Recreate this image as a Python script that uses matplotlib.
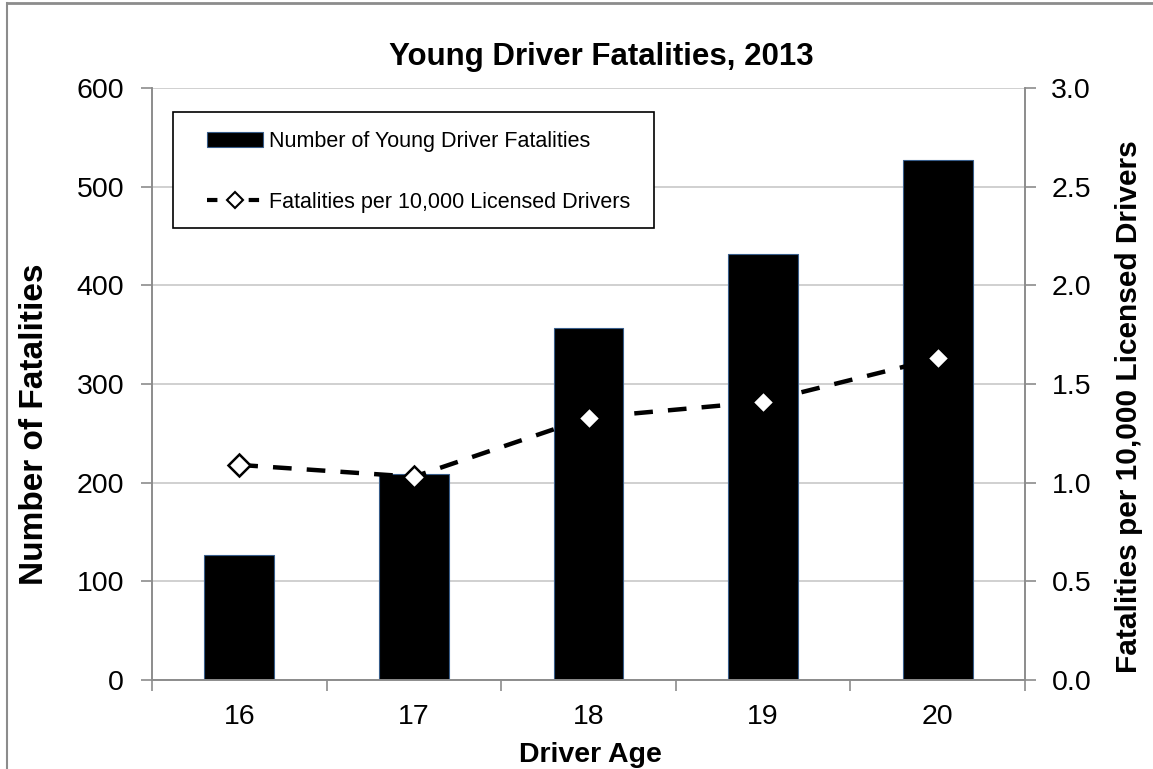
import numpy as np
import matplotlib
matplotlib.use('Agg')
import matplotlib.pyplot as plt
from matplotlib.patches import Patch, Rectangle
from matplotlib.lines import Line2D

plt.rcParams['font.family'] = ['Liberation Sans', 'DejaVu Sans']

# data
ages = ['16', '17', '18', '19', '20']
fatalities = [127, 209, 357, 432, 527]
rate_per_10k = [1.09, 1.03, 1.33, 1.41, 1.63]

W, H = 1153, 769
fig = plt.figure(figsize=(W / 100, H / 100), dpi=100)
ax = fig.add_axes([152 / W, 1 - 680 / H, 873 / W, 592 / H])
ax2 = ax.twinx()

x = np.arange(len(ages))
grey = '#8c8c8c'

# bars on the left axis
ax.bar(x, fatalities, width=0.4, color='black', edgecolor='#385d8a', linewidth=0.8, zorder=2)
ax.set_xlim(-0.5, len(ages) - 0.5)
ax.set_ylim(0, 600)
ax.set_yticks(range(0, 601, 100))
ax.grid(axis='y', color='#c8c8c8', linewidth=1.2)
ax.set_axisbelow(True)
ax.set_xticks(x)
ax.set_xticklabels(ages)
ax.set_xticks(np.arange(-0.5, len(ages), 1.0), minor=True)
ax.tick_params(axis='x', which='major', length=0, pad=17, labelsize=20.5)
ax.tick_params(axis='x', which='minor', length=8, color=grey, width=1.2, direction='out')
ax.tick_params(axis='y', length=8, color=grey, width=1.2, direction='out', pad=12, labelsize=20.5)

# dashed line on the right axis
ax2.plot(x, rate_per_10k, color='black', linewidth=3.2, dashes=(4.2, 3.4),
         marker='D', markersize=11, markerfacecolor='white', markeredgecolor='black',
         markeredgewidth=1.8, zorder=3)
ax2.set_ylim(0, 3.0)
ax2.set_yticks(np.arange(0, 3.01, 0.5))
ax2.set_yticklabels([f'{v:.1f}' for v in np.arange(0, 3.01, 0.5)])
ax2.tick_params(axis='y', length=8, color=grey, width=1.2, direction='out', pad=11, labelsize=20.5)

for a in (ax, ax2):
    a.spines['top'].set_visible(False)
    for s in ('left', 'right', 'bottom'):
        a.spines[s].set_color(grey)
        a.spines[s].set_linewidth(1.2)

# legend: own frame + frameless legend
def px2ax(px, py):
    return (px - 152) / 873, (680 - py) / 592

x0, y0 = px2ax(173, 228)
x1, y1 = px2ax(654, 112)
ax2.add_patch(Rectangle((x0, y0), x1 - x0, y1 - y0, transform=ax2.transAxes,
                        facecolor='white', edgecolor='black', linewidth=1.2, zorder=5))
handles = [Patch(facecolor='black', edgecolor='#385d8a', linewidth=0.8),
           Line2D([], [], color='black', linewidth=3, dashes=(2.5, 2.5), marker='D', markersize=8,
                  markerfacecolor='white', markeredgecolor='black', markeredgewidth=1.5)]
labels = ['Number of Young Driver Fatalities', 'Fatalities per 10,000 Licensed Drivers']
lx, ly = px2ax(207, 131)
leg = ax2.legend(handles, labels, loc='upper left', bbox_to_anchor=(lx, ly), bbox_transform=ax2.transAxes,
                 frameon=False, borderpad=0, borderaxespad=0, fontsize=15.5, handlelength=2.6,
                 handleheight=0.7, handletextpad=0.3, labelspacing=1.85)
leg.set_zorder(6)

# titles and axis labels
fig.text(601 / W, 1 - 65 / H, 'Young Driver Fatalities, 2013', ha='center', va='baseline',
         fontsize=22.5, fontweight='bold')
fig.text(590 / W, 1 - 762 / H, 'Driver Age', ha='center', va='baseline', fontsize=20.5, fontweight='bold')
fig.text(35 / W, 1 - 424 / H, 'Number of Fatalities', ha='center', va='center', rotation=90,
         fontsize=24, fontweight='bold')
fig.text(1129 / W, 1 - 407 / H, 'Fatalities per 10,000 Licensed Drivers', ha='center', va='center',
         rotation=90, fontsize=21.5, fontweight='bold')

# outer chart border (top and left visible in the crop)
fig.add_artist(Line2D([7 / W, 1], [1 - 3 / H, 1 - 3 / H], transform=fig.transFigure, color=grey, linewidth=2))
fig.add_artist(Line2D([7 / W, 7 / W], [0, 1 - 3 / H], transform=fig.transFigure, color=grey, linewidth=1.5))

fig.savefig('out.png', dpi=100)
